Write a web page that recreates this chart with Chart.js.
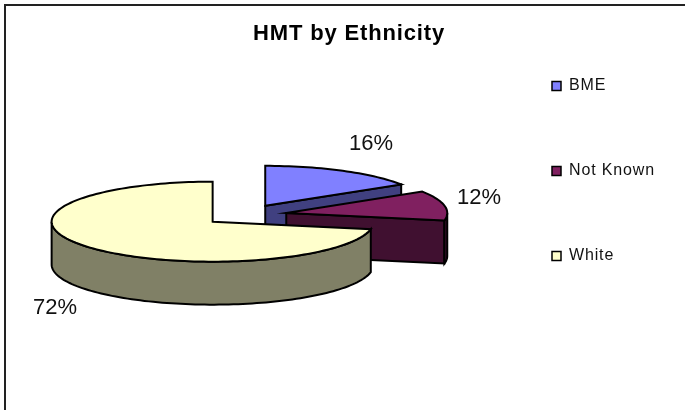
<!DOCTYPE html>
<html>
<head>
<meta charset="utf-8">
<style>html,body{margin:0;padding:0;background:#fff}canvas{display:block}</style>
<script src="https://cdn.jsdelivr.net/npm/chart.js@4/dist/chart.umd.min.js"></script>
</head>
<body>
<canvas id="c" width="685" height="410"></canvas>
<script>
const categories = ['BME', 'Not Known', 'White'];
const shares = [16, 12, 72];
const topColors = ['#8080FF', '#802060', '#FFFFCC'];
const sideColors = ['#404080', '#401030', '#808066'];
const chartTitle = 'HMT by Ethnicity';

const tilted = {
  id: 'tilted',
  beforeDraw(chart, args, o) {
    const c = chart.ctx;
    c.save();
    c.fillStyle = '#fff';
    c.fillRect(0, 0, chart.width, chart.height);
    c.strokeStyle = '#222';
    c.lineWidth = 2;
    c.beginPath();
    c.moveTo(chart.width, 5);
    c.lineTo(5, 5);
    c.lineTo(5, chart.height);
    c.stroke();
    c.restore();
    c.letterSpacing = o.spacing;
  },
  afterLayout(chart, args, o) {
    const l = chart.legend;
    l.left = o.legendLeft;
    l.top = o.legendTop;
  },
  beforeDatasetsDraw(chart, args, o) {
    const c = chart.ctx;
    c.letterSpacing = '0px';
    const meta = chart.getDatasetMeta(0);
    const k = o.ry / o.rx;
    const place = (arc, a, r, z) => {
      const mid = (arc.startAngle + arc.endAngle) / 2;
      const off = arc.options.offset / 4;
      return [
        o.cx + off * Math.cos(mid) + r * Math.cos(a),
        o.cy + k * (off * Math.sin(mid) + r * Math.sin(a)) + z
      ];
    };
    const poly = (pts, fill) => {
      c.beginPath();
      pts.forEach((p, i) => i ? c.lineTo(p[0], p[1]) : c.moveTo(p[0], p[1]));
      c.closePath();
      c.fillStyle = fill;
      c.fill();
      c.stroke();
    };
    c.save();
    c.strokeStyle = '#000';
    c.lineWidth = o.line;
    c.lineJoin = 'miter';
    meta.data.forEach((arc, i) => {
      const R = arc.outerRadius, s = arc.startAngle, e = arc.endAngle;
      if (Math.cos(e) > 1e-6) {
        poly([place(arc, e, 0, 0), place(arc, e, R, 0), place(arc, e, R, o.depth), place(arc, e, 0, o.depth)], sideColors[i]);
      }
      const from = Math.max(s, 0), to = Math.min(e, Math.PI);
      if (to > from) {
        const up = [], down = [];
        const n = Math.ceil((to - from) / 0.03);
        for (let j = 0; j <= n; j++) {
          const a = from + (to - from) * j / n;
          up.push(place(arc, a, R, 0));
          down.unshift(place(arc, a, R, o.depth));
        }
        poly(up.concat(down), sideColors[i]);
      }
      const top = [place(arc, s, 0, 0)];
      const n2 = Math.ceil((e - s) / 0.03);
      for (let j = 0; j <= n2; j++) top.push(place(arc, s + (e - s) * j / n2, R, 0));
      poly(top, topColors[i]);
    });
    c.fillStyle = '#111';
    c.font = o.labelFont;
    c.textAlign = 'center';
    c.textBaseline = 'middle';
    const total = shares.reduce((a, b) => a + b, 0);
    shares.forEach((v, i) => {
      c.fillText(Math.round(v / total * 100) + '%', o.labelAt[i][0], o.labelAt[i][1]);
    });
    c.restore();
    return false;
  }
};

new Chart(document.getElementById('c'), {
  type: 'pie',
  data: {
    labels: categories,
    datasets: [{
      data: shares,
      backgroundColor: topColors,
      borderColor: '#000',
      borderWidth: 1.5,
      offset: 168,
      radius: 161
    }]
  },
  plugins: [tilted],
  options: {
    responsive: false,
    animation: false,
    layout: { padding: { left: 13 } },
    plugins: {
      tooltip: { enabled: false },
      title: {
        display: true,
        text: chartTitle,
        color: '#000',
        font: { family: '"Liberation Sans", Arial, sans-serif', size: 22, weight: 'bold' },
        padding: { top: 21, bottom: 4 }
      },
      legend: {
        position: 'right',
        align: 'start',
        labels: {
          boxWidth: 9,
          boxHeight: 9,
          padding: 69,
          color: '#111',
          font: { family: '"Liberation Sans", Arial, sans-serif', size: 16 }
        }
      },
      tilted: {
        cx: 245, cy: 215, rx: 161, ry: 40, depth: 43, line: 2,
        spacing: '0.85px',
        legendLeft: 483, legendTop: 9,
        labelFont: '22px "Liberation Sans", Arial, sans-serif',
        labelAt: [[371, 144], [479, 198], [55, 308]]
      }
    }
  }
});
</script>
</body>
</html>
